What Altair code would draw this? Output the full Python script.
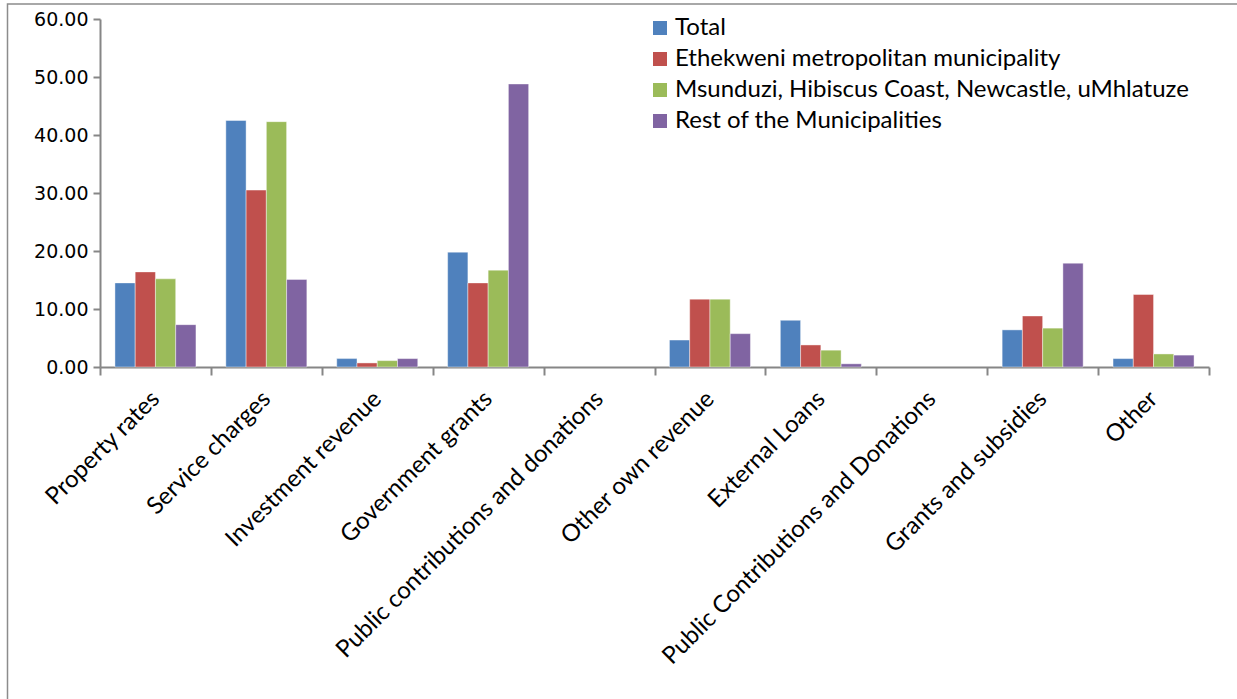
import altair as alt
import pandas as pd

# Revenue categories along the x axis
categories = [
    "Property rates",
    "Service charges",
    "Investment revenue",
    "Government grants",
    "Public contributions and donations",
    "Other own revenue",
    "External Loans",
    "Public Contributions and Donations",
    "Grants and subsidies",
    "Other",
]

# Municipal groupings (legend order)
series = [
    "Total",
    "Ethekweni metropolitan municipality",
    "Msunduzi, Hibiscus Coast, Newcastle, uMhlatuze",
    "Rest of the Municipalities",
]

# Share of revenue (%) per category for each grouping
total = [14.5, 42.5, 1.45, 19.8, 0.0, 4.65, 8.05, 0.0, 6.4, 1.45]
ethekweni = [16.4, 30.5, 0.7, 14.5, 0.0, 11.7, 3.8, 0.0, 8.8, 12.5]
secondary_cities = [15.2, 42.3, 1.1, 16.7, 0.0, 11.7, 2.9, 0.0, 6.7, 2.25]
rest = [7.3, 15.1, 1.45, 48.8, 0.0, 5.75, 0.55, 0.0, 17.9, 2.05]

colors = ["#4F81BD", "#C0504D", "#9BBB59", "#8064A2"]

rows = []
for name, vals in zip(series, [total, ethekweni, secondary_cities, rest]):
    for cat, v in zip(categories, vals):
        rows.append({"category": cat, "series": name, "value": v})
df = pd.DataFrame(rows)

W, H = 1109, 348
GRAY = "#868686"

bars = alt.Chart(df).transform_filter(
    alt.datum.value > 0
).mark_bar(stroke="white", strokeWidth=0.6, strokeOpacity=0.7).encode(
    x=alt.X(
        "category:N",
        # full-width category bands so ticks sit halfway between groups
        scale=alt.Scale(domain=categories, paddingInner=0, paddingOuter=0),
        axis=alt.Axis(
            title=None,
            labelAngle=-45,
            labelAlign="right",
            labelBaseline="middle",
            labelFont="Lato",
            labelFontSize=24,
            labelColor="black",
            labelLimit=0,
            labelPadding=20,
            tickBand="extent",
            tickSize=8,
            tickWidth=2,
            tickColor=GRAY,
            domainColor=GRAY,
            domainWidth=2,
        ),
    ),
    # the gap between groups comes from the outer padding of the offset scale
    xOffset=alt.XOffset(
        "series:N",
        scale=alt.Scale(domain=series, paddingInner=0, paddingOuter=0.738),
    ),
    y=alt.Y(
        "value:Q",
        scale=alt.Scale(domain=[0, 60], nice=False),
        axis=alt.Axis(
            title=None,
            values=[0, 10, 20, 30, 40, 50, 60],
            format=".2f",
            grid=False,
            labelFont="DejaVu Sans",
            labelFontSize=19,
            labelColor="black",
            labelPadding=5,
            tickSize=7,
            tickWidth=2,
            tickColor=GRAY,
            domainColor=GRAY,
            domainWidth=2,
        ),
    ),
    color=alt.Color(
        "series:N",
        scale=alt.Scale(domain=series, range=colors),
        legend=alt.Legend(
            title=None,
            orient="none",
            legendX=548,
            legendY=-3,
            padding=0,
            symbolType="square",
            symbolSize=196,
            symbolStrokeWidth=0,
            labelFont="Lato",
            labelFontSize=24,
            labelColor="black",
            labelOffset=3,
            labelLimit=0,
            rowPadding=7,
        ),
    ),
)

# Chart-area frame
frame = alt.Chart(pd.DataFrame({"k": [0]})).mark_rect(
    fill=None, stroke="#8c8c8c", strokeWidth=1.5
).encode(
    x=alt.value(-92.5), x2=alt.value(1400), y=alt.value(-15), y2=alt.value(800)
)

chart = (
    alt.layer(frame, bars)
    .properties(
        width=W,
        height=H,
        autosize=alt.AutoSizeParams(type="none"),
        padding={"left": 100, "top": 19, "right": 28, "bottom": 332},
        background="white",
    )
    .configure_view(stroke=None)
)

chart.save("out.html", embed_options={"renderer": "svg", "actions": False})
